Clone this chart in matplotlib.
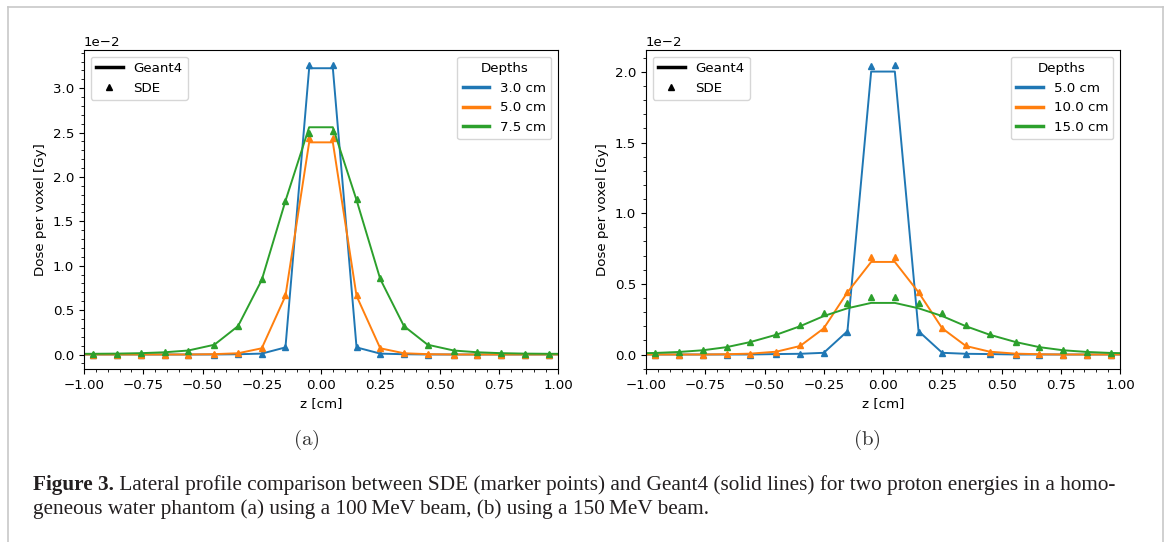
import numpy as np
import matplotlib
matplotlib.use("Agg")
import matplotlib.pyplot as plt
from matplotlib.lines import Line2D
from matplotlib.ticker import MultipleLocator, AutoMinorLocator

W, H = 1167, 542

# voxel centres [cm]
z = [-0.96, -0.86, -0.76, -0.66, -0.56, -0.45, -0.35, -0.25, -0.15, -0.05,
     0.05, 0.15, 0.25, 0.35, 0.45, 0.56, 0.66, 0.76, 0.86, 0.96]
# geant4 profile runs past the axis limits
z_g4 = [-1.06] + z + [1.06]

# doses in units of 1e-2 Gy
# (a) 100 MeV
depths_a = ["3.0 cm", "5.0 cm", "7.5 cm"]
sde_a_30 = [0, 0, 0, 0, 0, 0, 0.003, 0.01, 0.083, 3.267,
            3.267, 0.083, 0.01, 0.003, 0, 0, 0, 0, 0, 0]
sde_a_50 = [0, 0, 0, 0, 0, 0.004, 0.015, 0.075, 0.67, 2.44,
            2.44, 0.67, 0.075, 0.015, 0.004, 0, 0, 0, 0, 0]
sde_a_75 = [0.008, 0.01, 0.015, 0.026, 0.045, 0.11, 0.325, 0.85, 1.73, 2.50,
            2.52, 1.75, 0.86, 0.325, 0.11, 0.045, 0.026, 0.015, 0.01, 0.008]
g4_a_30 = [0, 0, 0, 0, 0, 0, 0, 0.003, 0.01, 0.08, 3.225,
           3.225, 0.08, 0.01, 0.003, 0, 0, 0, 0, 0, 0, 0]
g4_a_50 = [0, 0, 0, 0, 0, 0, 0.004, 0.014, 0.07, 0.66, 2.39,
           2.39, 0.66, 0.07, 0.014, 0.004, 0, 0, 0, 0, 0, 0]
g4_a_75 = [0.007, 0.008, 0.01, 0.015, 0.025, 0.045, 0.11, 0.32, 0.84, 1.73, 2.56,
           2.56, 1.74, 0.85, 0.32, 0.11, 0.045, 0.025, 0.015, 0.01, 0.008, 0.007]

# (b) 150 MeV
depths_b = ["5.0 cm", "10.0 cm", "15.0 cm"]
sde_b_50 = [0, 0, 0, 0, 0, 0.003, 0.005, 0.012, 0.16, 2.04,
            2.052, 0.16, 0.012, 0.005, 0.003, 0, 0, 0, 0, 0]
sde_b_100 = [0, 0, 0, 0.002, 0.007, 0.021, 0.064, 0.184, 0.443, 0.693,
             0.693, 0.443, 0.184, 0.064, 0.021, 0.007, 0.002, 0, 0, 0]
sde_b_150 = [0.012, 0.019, 0.031, 0.052, 0.087, 0.144, 0.212, 0.292, 0.365, 0.405,
             0.405, 0.365, 0.292, 0.212, 0.144, 0.087, 0.052, 0.031, 0.019, 0.012]
g4_b_50 = [0, 0, 0, 0, 0, 0, 0.003, 0.005, 0.012, 0.165, 2.002,
           2.002, 0.165, 0.012, 0.005, 0.003, 0, 0, 0, 0, 0, 0]
g4_b_100 = [0, 0, 0, 0, 0.002, 0.006, 0.02, 0.06, 0.185, 0.44, 0.655,
            0.655, 0.44, 0.185, 0.06, 0.02, 0.006, 0.002, 0, 0, 0, 0]
g4_b_150 = [0.008, 0.011, 0.018, 0.03, 0.052, 0.088, 0.14, 0.20, 0.272, 0.327, 0.365,
            0.365, 0.327, 0.272, 0.20, 0.14, 0.088, 0.052, 0.03, 0.018, 0.011, 0.008]

colors = ["#1f77b4", "#ff7f0e", "#2ca02c"]

plt.rcParams["font.size"] = 9.6

fig = plt.figure(figsize=(W / 100, H / 100), dpi=100)


def panel(left, g4s, sdes, depths):
    ax = fig.add_axes([left / W, 1 - 369 / H, 474 / W, 319 / H])
    for g4, sde, c in zip(g4s, sdes, colors):
        ax.plot(z_g4, np.array(g4) * 1e-2, color=c, lw=1.4)
        ax.plot(z, np.array(sde) * 1e-2, "^", color=c, ms=4.6)
    ax.set_xlim(-1, 1)
    ax.xaxis.set_major_locator(MultipleLocator(0.25))
    ax.yaxis.set_major_locator(MultipleLocator(0.005))
    ax.xaxis.set_minor_locator(AutoMinorLocator(5))
    ax.yaxis.set_minor_locator(AutoMinorLocator(5))
    ax.ticklabel_format(axis="y", style="sci", scilimits=(0, 0))
    ax.set_xlabel("z [cm]")
    ax.set_ylabel("Dose per voxel [Gy]")
    h1 = [Line2D([], [], color="k", lw=2.5),
          Line2D([], [], color="k", marker="^", ls="none", ms=5)]
    leg1 = ax.legend(h1, ["Geant4", "SDE"], loc="upper left")
    ax.add_artist(leg1)
    h2 = [Line2D([], [], color=c, lw=2.5) for c in colors]
    ax.legend(h2, depths, loc="upper right", title="Depths")
    return ax


panel(84, [g4_a_30, g4_a_50, g4_a_75], [sde_a_30, sde_a_50, sde_a_75], depths_a)
panel(646, [g4_b_50, g4_b_100, g4_b_150], [sde_b_50, sde_b_100, sde_b_150], depths_b)

# sub captions
for xc, lab in [(306, "(a)"), (867, "(b)")]:
    fig.text(xc / W, 1 - 440 / H, r"$\mathrm{%s}$" % lab, math_fontfamily="cm",
             fontsize=15, ha="center", va="center", color="#333333")

# figure caption, fitted to the measured line width
serif = "Liberation Serif"
line1 = (" Lateral profile comparison between SDE (marker points) and Geant4 "
         "(solid lines) for two proton energies in a homo-")
line2 = ("geneous water phantom (a) using a 100\u2009MeV beam, (b) using a "
         "150\u2009MeV beam.")
fs = 14.0
fig.canvas.draw()
r = fig.canvas.get_renderer()
for _ in range(2):
    t_b = fig.text(0, 0, "Figure 3.", fontweight="bold", family=serif, fontsize=fs)
    t_1 = fig.text(0, 0, line1, family=serif, fontsize=fs)
    wtot = t_b.get_window_extent(r).width + t_1.get_window_extent(r).width
    t_b.remove()
    t_1.remove()
    fs = fs * 1082 / wtot

x0 = 33
tb = fig.text(x0 / W, 1 - 490 / H, "Figure 3.", fontweight="bold", family=serif,
              fontsize=fs, va="baseline", color="#231f20")
wb = tb.get_window_extent(r).width
fig.text((x0 + wb) / W, 1 - 490 / H, line1, family=serif, fontsize=fs,
         va="baseline", color="#231f20")
fig.text(x0 / W, 1 - 514 / H, line2, family=serif, fontsize=fs,
         va="baseline", color="#231f20")

# page frame
bc = "#c8c8c8"
fig.add_artist(Line2D([8 / W, 8 / W], [0, 1 - 7 / H], color=bc, lw=1.2))
fig.add_artist(Line2D([8 / W, 1163 / W], [1 - 7 / H, 1 - 7 / H], color=bc, lw=1.2))
fig.add_artist(Line2D([1163 / W, 1163 / W], [0, 1 - 7 / H], color=bc, lw=1.2))

fig.savefig("out.png", dpi=100)
